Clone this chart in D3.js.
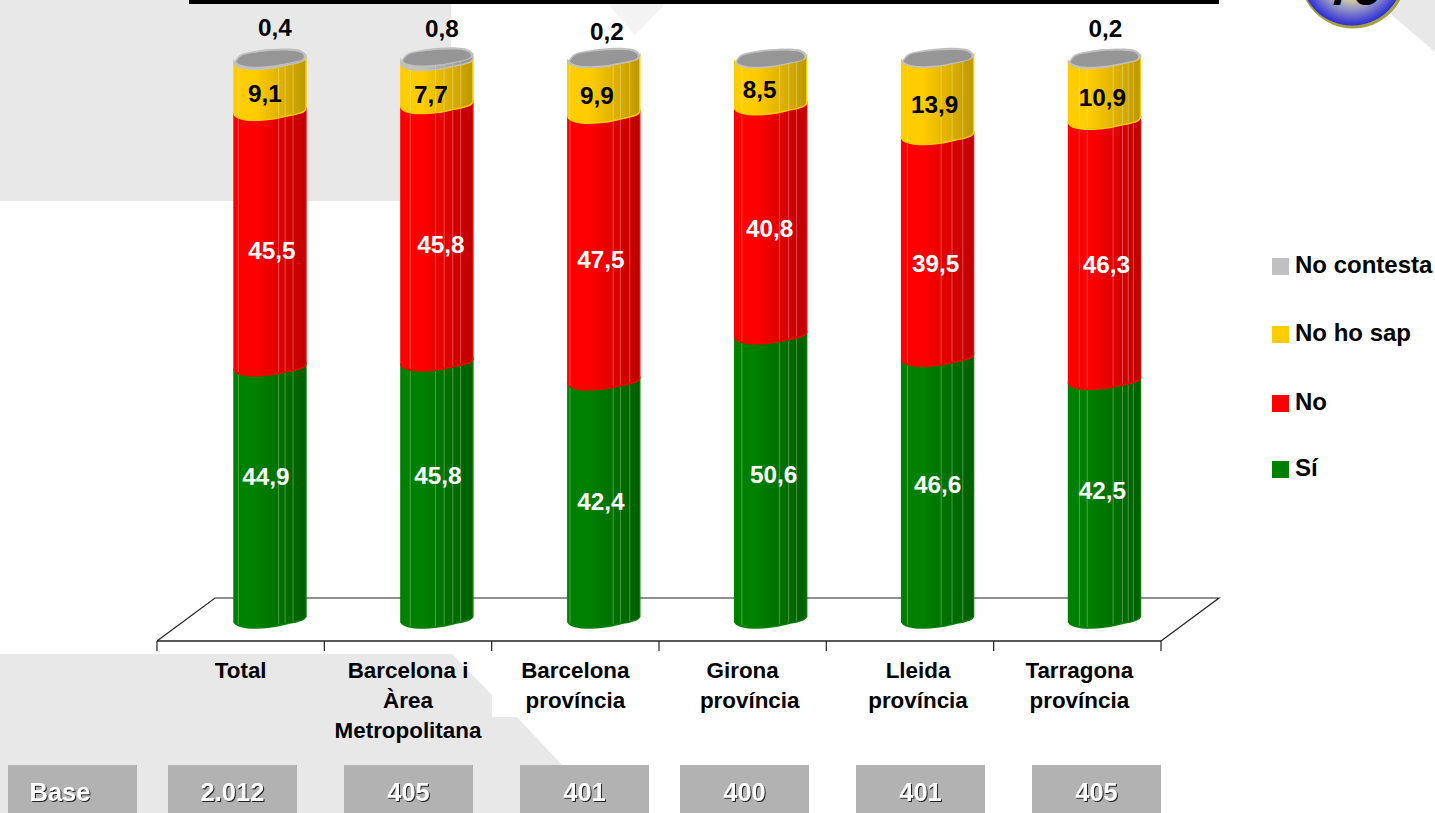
<!DOCTYPE html>
<html>
<head>
<meta charset="utf-8">
<script src="https://cdn.jsdelivr.net/npm/d3@7"></script>
<style>
html,body{margin:0;padding:0;background:#fff;overflow:hidden}
text{font-family:"Liberation Sans",Arial,sans-serif;font-weight:bold}
</style>
</head>
<body>
<div id="container"></div>
<script>
// chart values
var categories = ["Total","Barcelona i Àrea Metropolitana","Barcelona província","Girona província","Lleida província","Tarragona província"]
var categoryLines = [["Total"],["Barcelona i","Àrea","Metropolitana"],["Barcelona","província"],["Girona","província"],["Lleida","província"],["Tarragona","província"]]
var bases = ["2.012","405","401","400","401","405"]
var seriesNames = ["Sí","No","No ho sap","No contesta"]
var si = [44.9,45.8,42.4,50.6,46.6,42.5]
var no = [45.5,45.8,47.5,40.8,39.5,46.3]
var noSap = [9.1,7.7,9.9,8.5,13.9,10.9]
var noContesta = [0.4,0.8,0.2,0,0,0.2]
var seriesValues = [si,no,noSap,noContesta]
var seriesColors = ["#008000","#ff0000","#ffcc00","#c0c0c0"]

// hand placed data labels in the original, offset from the bar centre / segment middle
var labelDx = [[-4,1,-3,3,0,-2],[2,4,-3,-1,-2,2],[-5,-6,-7,-11,-3,-2],[5,5,3,0,0,1]]
var labelDy = [[-26,-24,-8,-12,-13,-18],[2,2,3,-1,8,5],[-2,2,0,-2,-1,-2],[0,0,0,0,0,0]]

// outline of the bar base across its width, u 0..1, px above the lowest point
var frontU = [0,.03,.12,.25,.4,.55,.75,.9,.97,1]
var frontY = [-6,-3.5,-1.2,0,-.3,-1.5,-4.5,-7,-9,-11.5]
var backU = [1,.99,.92,.78,.5,.29,.08,0]
var backY = [-11.5,-15,-18.5,-20,-19.5,-17.5,-13.5,-6]
var facets = [[.06,.62,.71,.82],[.13,.48,.6,.72,.83],[.03,.63,.73,.86],[.1,.62,.75,.86],[.08,.55,.7,.85],[.15,.26,.62,.75,.83,.9]]

var w = 1435
var h = 813
var barW = 72
var grayBg = "#e8e8e8"

var svg = d3.select("#container").append("svg").attr("width",w).attr("height",h).style("display","block")
var defs = svg.append("defs")

var xTick = d3.scaleBand().domain(categories).range([157,1161])
var xBar = d3.scalePoint().domain(categories).range([270,1104.5])
var y = d3.scaleLinear().domain([0,100]).range([628,66.5])

// background shapes
var bg = svg.append("g")
bg.append("rect").attr("x",0).attr("y",0).attr("width",451).attr("height",201).attr("fill",grayBg)
bg.append("path").attr("fill",grayBg)
    .attr("d","M0,654L452,654L492,695L492,717L517,717L562,765L562,813L0,813Z")
bg.append("path").attr("fill","#f3f3f3").attr("d","M608,4L665,4L635,35Z")
bg.append("path").attr("fill",grayBg).attr("d","M1380,0L1435,0L1435,52L1392,15Z")

svg.append("rect").attr("x",189).attr("y",0).attr("width",1030).attr("height",4).attr("fill","#000")

// badge, top right
var badgeGrad = defs.append("radialGradient").attr("id","badge").attr("cx","50%").attr("cy","50%").attr("r","50%")
badgeGrad.append("stop").attr("offset","0.4").attr("stop-color","#f0ea90")
badgeGrad.append("stop").attr("offset","0.7").attr("stop-color","#8f8fc8")
badgeGrad.append("stop").attr("offset","1").attr("stop-color","#2c2cd8")
svg.append("circle").attr("cx",1353).attr("cy",-25).attr("r",53.5).attr("fill","#a5a040")
svg.append("circle").attr("cx",1352).attr("cy",-26).attr("r",51.5).attr("fill","url(#badge)")
svg.append("text").text("75").attr("x",1355).attr("y",5).attr("text-anchor","middle")
    .attr("font-size",46).attr("font-style","italic").attr("fill","#000")

// floor
var floor = svg.append("g").attr("fill","none").attr("stroke","#222").attr("stroke-width",1.2)
floor.append("path").attr("d","M157,641L215,598L1219,598L1161,641")
floor.append("path").attr("d","M157,641L1161,641").attr("stroke-width",1.5)
var tickEdges = categories.map(function(d){return xTick(d)}).concat([xTick.range()[1]])
floor.selectAll(".tick").data(tickEdges).enter().append("line")
    .attr("x1",function(d){return d}).attr("x2",function(d){return d})
    .attr("y1",641).attr("y2",651)

// one gradient per colour, getting darker to the right
var shadeU = [0,.3,.5,.75,1]
var shadeK = [1,1,.92,.84,.74]
seriesColors.forEach(function(c,s){
    var g = defs.append("linearGradient").attr("id","grad"+s)
    shadeU.forEach(function(u,i){
        var col = d3.rgb(c)
        g.append("stop").attr("offset",u)
            .attr("stop-color",d3.rgb(col.r*shadeK[i],col.g*shadeK[i],col.b*shadeK[i]).formatHex())
    })
})

var edge = d3.line().curve(d3.curveMonotoneX)
    .x(function(d){return d[0]}).y(function(d){return d[1]})

function frontPts(cx,yBase){
    return frontU.map(function(u,i){return [cx-barW/2+u*barW,yBase+frontY[i]]})
}
function frontPtsRev(cx,yBase){
    return frontPts(cx,yBase).reverse()
}
function backPts(cx,yBase){
    return backU.map(function(u,i){return [cx-barW/2+u*barW,yBase+backY[i]]})
}

var bars = svg.append("g")
categories.forEach(function(cat,c){
    var cx = xBar(cat)
    var cum = 0
    seriesValues.forEach(function(vals,s){
        var v = vals[c]
        var yBottom = y(cum)
        var yTop = y(cum+v)
        cum += v
        if(v<=0) return
        var pts = frontPts(cx,yBottom)
        var top = frontPtsRev(cx,yTop)
        var d = edge(pts)+"L"+edge(top).slice(1)+"Z"
        bars.append("path").attr("d",d).attr("fill","url(#grad"+s+")")
            .attr("stroke",seriesColors[s]).attr("stroke-width",1.4).attr("class","segment")
        facets[c].forEach(function(u){
            var fx = cx-barW/2+u*barW
            var i = d3.bisectRight(frontU,u)
            var t = (u-frontU[i-1])/(frontU[i]-frontU[i-1])
            var off = frontY[i-1]+t*(frontY[i]-frontY[i-1])
            if(yBottom+off-1>yTop+off+1){
                bars.append("line").attr("x1",fx).attr("x2",fx)
                    .attr("y1",yTop+off+1).attr("y2",yBottom+off-1)
                    .attr("stroke","#fff").attr("stroke-opacity",.3).attr("stroke-width",1)
            }
        })
    })
    // cap
    var yCap = y(cum)+1.5
    var capPts = frontPts(cx,yCap).concat(backPts(cx,yCap).slice(1))
    var cap = d3.line().curve(d3.curveCatmullRomClosed)
    bars.append("path").attr("d",cap(capPts)).attr("fill","#c0c0c0")
    var midY = yCap-9.5
    var inner = capPts.map(function(p){return [cx+(p[0]-cx)*.94,midY+(p[1]-midY)*.8]})
    bars.append("path").attr("d",cap(inner)).attr("fill","#969696")
})

// data labels
var labels = svg.append("g").attr("font-size",24.3).attr("text-anchor","middle")
categories.forEach(function(cat,c){
    var cum = 0
    seriesValues.forEach(function(vals,s){
        var v = vals[c]
        var mid = y(cum+v/2)
        cum += v
        if(v<=0) return
        var ly = s==3 ? y(100)-39+labelDy[s][c]+[0,1,4,0,0,1][c] : mid+labelDy[s][c]
        labels.append("text").text(String(v.toFixed(1)).replace(".",","))
            .attr("x",xBar(cat)+labelDx[s][c]).attr("y",ly)
            .attr("dy","0.36em")
            .attr("fill",s<2?"#fff":"#000")
    })
})

// category labels
var labelShift = [[0],[0,0,0],[0,0],[0,7],[8,8],[2,2]]
var catText = svg.append("g").attr("font-size",22.4).attr("text-anchor","middle").attr("fill","#000")
categoryLines.forEach(function(lines,c){
    lines.forEach(function(t,l){
        catText.append("text").text(t)
            .attr("x",xTick(categories[c])+xTick.bandwidth()/2+labelShift[c][l])
            .attr("y",678+l*30)
    })
})

// base row
var boxX = [8,168,344,520,680,856,1032]
var boxLabels = ["Base"].concat(bases)
var baseRow = svg.append("g")
boxLabels.forEach(function(t,i){
    baseRow.append("rect").attr("x",boxX[i]).attr("y",765).attr("width",129).attr("height",48).attr("fill","#b2b2b2")
    baseRow.append("text").text(t).attr("x",i==0?60:boxX[i]+64.5).attr("y",801)
        .attr("text-anchor","middle").attr("font-size",25.5).attr("fill","#fff")
        .style("filter","drop-shadow(1.3px 1.3px 0 #222)")
})

// legend, top to bottom
var legendY = [258,326,395,461]
var legendBase = [273,341,410,476]
var legend = svg.append("g")
seriesNames.slice().reverse().forEach(function(name,i){
    var col = seriesColors[seriesColors.length-1-i]
    legend.append("rect").attr("x",1272).attr("y",legendY[i]).attr("width",17).attr("height",17).attr("fill",col)
    legend.append("text").text(name).attr("x",1295).attr("y",legendBase[i]).attr("font-size",24).attr("fill","#000")
})
</script>
</body>
</html>
